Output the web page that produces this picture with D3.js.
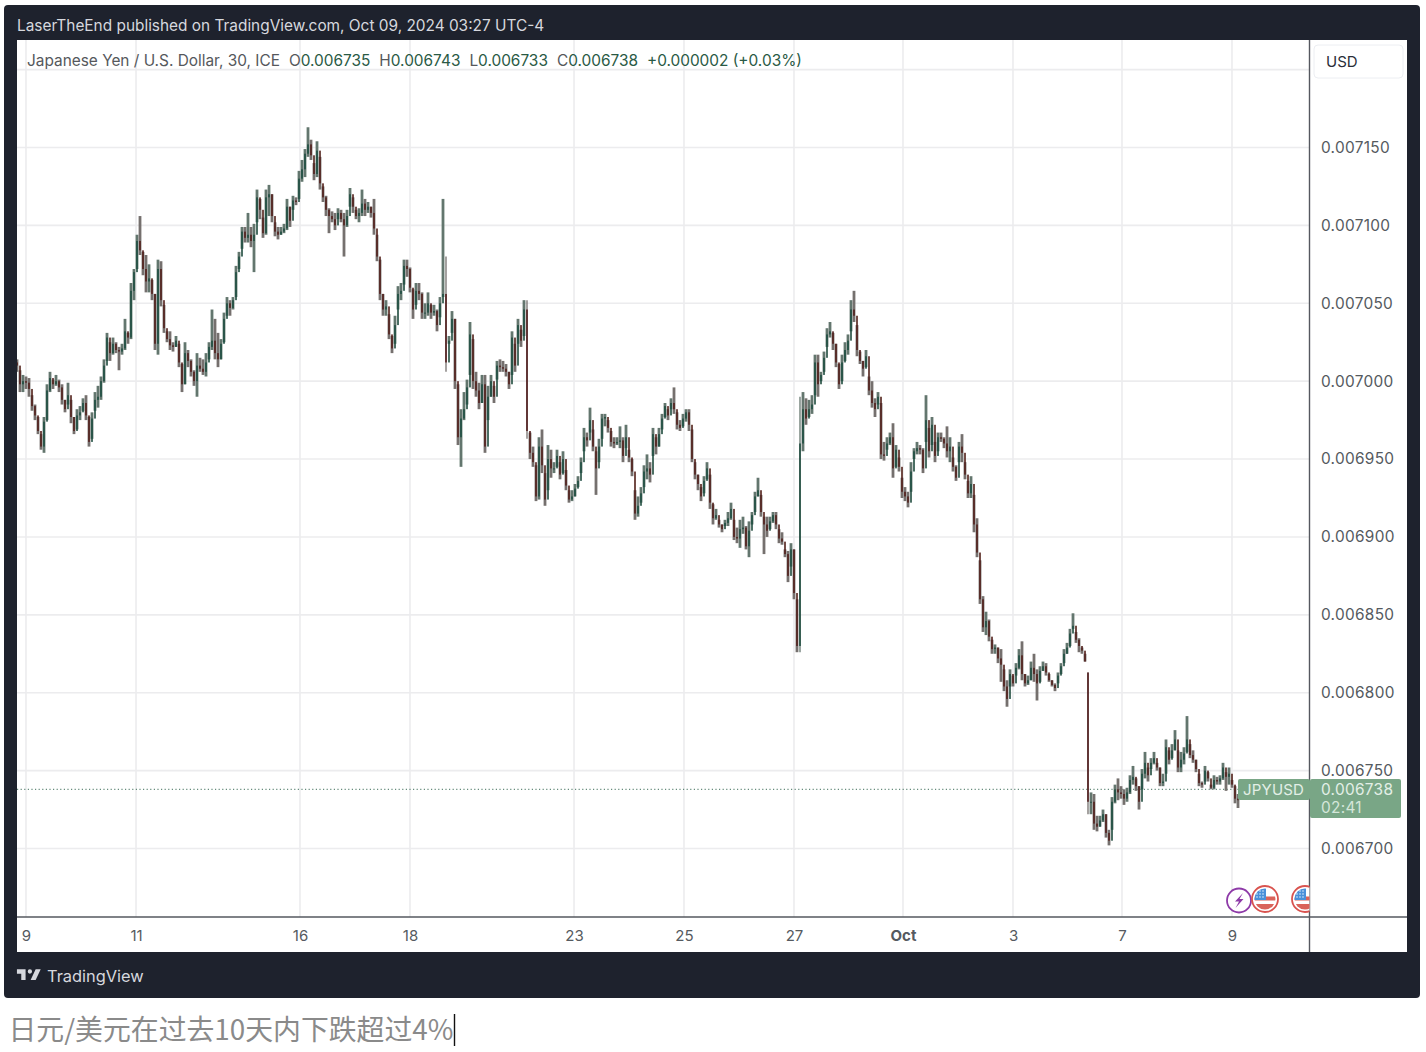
<!DOCTYPE html>
<html><head><meta charset="utf-8">
<script src="https://cdn.jsdelivr.net/npm/d3@7/dist/d3.min.js"></script>
<style>
html,body{margin:0;padding:0;background:#fff;}
svg{display:block;}
text{font-family:Inter,"Noto Sans CJK SC",sans-serif;}
</style></head><body>
<svg id="c" width="1426" height="1052"></svg>
<script>
// prices are in millionths of a USD per JPY
const highs = [7014,7007,7004,7003,7002,6991,6985,6977,6966,6977,6998,7006,7001,7004,7001,6998,6988,6999,6988,6977,6982,6984,6989,6991,6977,6980,6993,6997,7003,7014,7031,7025,7028,7025,7022,7024,7040,7031,7063,7072,7094,7106,7083,7081,7075,7065,7056,7078,7077,7049,7032,7032,7025,7029,7024,7011,7025,7020,7014,7007,7018,7015,7014,7018,7025,7046,7040,7031,7027,7044,7054,7052,7054,7074,7083,7099,7099,7108,7099,7101,7123,7117,7105,7123,7126,7120,7102,7099,7099,7101,7117,7112,7119,7118,7135,7142,7149,7163,7155,7140,7154,7144,7125,7119,7111,7109,7108,7111,7110,7108,7110,7124,7118,7110,7111,7123,7117,7115,7112,7117,7094,7078,7056,7052,7043,7029,7042,7061,7063,7078,7078,7073,7059,7063,7063,7057,7050,7057,7049,7049,7046,7054,7117,7080,7029,7045,7040,6998,6982,6993,7001,7038,7027,7006,6999,7004,7004,6997,7004,6997,7013,7014,7013,7011,7006,7032,7024,7040,7033,7052,7052,6967,6958,6946,6964,6969,6941,6959,6956,6948,6956,6948,6955,6943,6930,6930,6934,6939,6951,6970,6967,6983,6969,6955,6963,6979,6979,6975,6968,6964,6964,6971,6964,6972,6956,6950,6930,6926,6932,6946,6953,6948,6970,6964,6970,6979,6986,6982,6989,6996,6980,6975,6979,6982,6982,6969,6948,6940,6932,6939,6948,6940,6921,6918,6911,6908,6911,6916,6922,6911,6906,6911,6913,6907,6910,6916,6929,6938,6927,6913,6913,6913,6916,6916,6905,6903,6892,6891,6896,6892,6860,6990,6993,6989,6988,6991,7017,7017,7006,7019,7034,7038,7031,7024,7011,7017,7025,7030,7052,7058,7036,7019,7013,7020,7003,7000,6989,6993,6986,6961,6964,6967,6973,6959,6951,6938,6932,6929,6948,6957,6961,6959,6957,6991,6970,6977,6961,6967,6967,6964,6971,6964,6951,6946,6961,6966,6948,6936,6939,6927,6912,6885,6862,6852,6847,6834,6831,6829,6828,6815,6808,6815,6811,6819,6828,6833,6812,6811,6820,6825,6815,6817,6820,6819,6812,6808,6806,6813,6819,6828,6832,6841,6851,6839,6835,6829,6825,6813,6736,6735,6721,6721,6725,6722,6712,6733,6741,6745,6740,6738,6739,6747,6753,6745,6740,6751,6762,6752,6758,6762,6755,6752,6748,6770,6763,6767,6776,6763,6762,6765,6785,6767,6763,6757,6748,6743,6753,6749,6741,6747,6746,6747,6755,6749,6752,6744,6740,6735];
const lows = [7006,6993,6993,6995,6990,6981,6975,6966,6956,6954,6975,6993,6995,6997,6993,6985,6980,6985,6973,6966,6969,6975,6981,6975,6958,6963,6981,6983,6988,6999,7013,7013,7017,7018,7007,7017,7020,7024,7027,7052,7072,7081,7068,7057,7057,7052,7020,7017,7048,7031,7025,7020,7019,7022,7009,6993,6998,7009,7003,6997,6990,7006,7004,7003,7014,7020,7014,7009,7014,7025,7042,7042,7046,7054,7072,7085,7089,7089,7086,7070,7102,7104,7092,7094,7106,7102,7093,7091,7094,7095,7097,7099,7110,7113,7117,7128,7131,7144,7142,7129,7131,7123,7115,7106,7095,7102,7097,7104,7102,7080,7099,7112,7108,7104,7102,7106,7106,7108,7105,7094,7077,7052,7042,7042,7027,7018,7024,7046,7052,7062,7067,7057,7040,7049,7052,7040,7040,7042,7040,7042,7032,7041,7054,7006,7024,7031,6995,6959,6945,6975,6985,7004,6995,6990,6982,6986,6954,6975,6990,6986,7001,7006,7006,7003,6995,7004,7006,7024,7022,7029,6963,6950,6945,6923,6924,6941,6920,6930,6938,6941,6945,6937,6941,6930,6922,6923,6926,6932,6941,6955,6958,6967,6955,6927,6948,6963,6971,6967,6958,6957,6959,6957,6948,6957,6948,6939,6911,6913,6922,6932,6937,6935,6952,6953,6958,6969,6977,6975,6982,6979,6969,6968,6971,6974,6968,6948,6937,6930,6923,6928,6937,6918,6908,6911,6906,6903,6907,6907,6911,6898,6896,6893,6902,6892,6887,6908,6916,6926,6913,6889,6900,6905,6909,6905,6896,6895,6887,6871,6881,6860,6826,6826,6955,6972,6977,6979,6991,6990,7000,7006,7022,7028,7020,7009,6995,7000,7013,7017,7032,7038,7016,7011,7003,7009,6991,6983,6977,6985,6950,6949,6956,6959,6938,6945,6942,6925,6923,6919,6929,6950,6953,6953,6941,6961,6951,6959,6948,6955,6961,6957,6951,6948,6942,6936,6948,6948,6937,6925,6925,6903,6887,6857,6839,6837,6833,6825,6825,6819,6807,6801,6791,6804,6804,6811,6815,6808,6804,6805,6808,6807,6795,6807,6814,6811,6807,6804,6801,6806,6812,6819,6825,6830,6841,6832,6826,6825,6820,6722,6722,6712,6711,6714,6717,6707,6702,6712,6729,6731,6732,6728,6730,6735,6741,6737,6725,6738,6745,6743,6751,6754,6750,6740,6740,6748,6754,6758,6763,6749,6749,6754,6762,6758,6755,6749,6740,6739,6743,6743,6738,6738,6741,6741,6744,6737,6741,6739,6729,6726];
const closes = [7010,6998,7000,6999,6995,6984,6978,6968,6958,6974,6994,7002,6998,7000,6996,6988,6982,6991,6977,6968,6978,6980,6986,6978,6961,6976,6988,6990,7000,7010,7028,7018,7024,7020,7019,7021,7032,7028,7058,7070,7090,7084,7072,7064,7066,7056,7024,7072,7052,7034,7027,7023,7022,7026,7012,6998,7018,7013,7006,7000,7010,7008,7006,7012,7022,7026,7018,7014,7024,7040,7050,7047,7052,7070,7080,7096,7092,7094,7090,7094,7118,7110,7095,7118,7120,7106,7096,7094,7096,7098,7112,7103,7116,7115,7130,7136,7146,7152,7145,7133,7148,7127,7118,7110,7106,7104,7100,7108,7104,7100,7106,7120,7112,7106,7108,7114,7110,7112,7108,7098,7080,7056,7046,7048,7030,7021,7036,7056,7058,7074,7072,7060,7046,7058,7056,7044,7044,7050,7044,7045,7036,7050,7056,7012,7026,7040,7000,6964,6976,6982,6996,7030,7000,6994,6986,6998,6958,6990,7000,6990,7010,7009,7008,7006,6998,7028,7010,7036,7026,7046,6968,6954,6948,6926,6958,6946,6924,6950,6944,6944,6952,6940,6950,6933,6924,6926,6931,6936,6948,6964,6962,6975,6958,6944,6958,6976,6977,6970,6961,6960,6961,6962,6952,6964,6951,6942,6915,6920,6928,6942,6944,6940,6966,6958,6966,6976,6984,6978,6986,6982,6972,6970,6976,6980,6972,6950,6940,6934,6926,6936,6944,6922,6912,6914,6908,6905,6909,6912,6918,6900,6899,6905,6906,6894,6904,6914,6926,6930,6916,6908,6904,6910,6914,6908,6899,6897,6889,6875,6892,6864,6830,6960,6982,6976,6982,6985,7012,6998,7004,7015,7030,7032,7024,7012,6998,7012,7020,7026,7046,7042,7020,7013,7008,7016,6994,6986,6982,6990,6953,6952,6960,6964,6944,6956,6945,6929,6926,6922,6942,6955,6957,6956,6944,6975,6955,6972,6952,6964,6963,6960,6955,6958,6945,6938,6958,6954,6940,6928,6934,6908,6890,6860,6842,6846,6836,6828,6829,6822,6818,6804,6796,6812,6806,6816,6824,6812,6806,6808,6816,6812,6806,6814,6817,6813,6808,6805,6803,6811,6817,6825,6829,6838,6843,6834,6830,6827,6820,6730,6730,6716,6714,6718,6722,6710,6705,6730,6738,6736,6735,6732,6736,6744,6746,6740,6730,6748,6755,6747,6755,6758,6752,6742,6743,6765,6757,6763,6770,6752,6757,6761,6770,6760,6757,6751,6742,6741,6750,6745,6739,6744,6743,6745,6752,6746,6748,6741,6732,6731];
const firstOpen = 7012;
const gapBar = 357;      // the bar that gaps down on Oct 4
const gapOpen = 6813;
const priceUnit = 1e-6;
const lastPrice = 0.006738;
const priceTicks = [0.0067,0.00675,0.0068,0.00685,0.0069,0.00695,0.007,0.00705,0.0071,0.00715];
const gridPrices = [0.0067,0.00675,0.0068,0.00685,0.0069,0.00695,0.007,0.00705,0.0071,0.00715,0.0072];
const timeLabels = ["9","11","16","18","23","25","27","Oct","3","7","9"];
const timeBars = [3,39.67,94.33,131,185.67,222.33,259,295.33,332,368.33,405];
const legendName = "Japanese Yen / U.S. Dollar, 30, ICE";
const legendOHLC = [["O","0.006735"],["H","0.006743"],["L","0.006733"],["C","0.006738"]];
const legendChange = "+0.000002 (+0.03%)";

const svg = d3.select("#c");
const defs = svg.append("defs");
const soft = defs.append("filter").attr("id","soft").attr("filterUnits","userSpaceOnUse")
  .attr("x",0).attr("y",0).attr("width",1426).attr("height",1052);
soft.append("feGaussianBlur").attr("stdDeviation",0.55);
defs.append("clipPath").attr("id","pane").append("rect").attr("x",17).attr("y",40).attr("width",1292).attr("height",877);
const flagClip = defs.append("clipPath").attr("id","paneIcons");
flagClip.append("rect").attr("x",1200).attr("y",870).attr("width",109.5).attr("height",47);

// frame
svg.append("rect").attr("x",4).attr("y",5).attr("width",1416).attr("height",993).attr("rx",4).attr("fill","#1e222d");
svg.append("rect").attr("x",17).attr("y",40).attr("width",1390).attr("height",912).attr("fill","#fff");
svg.append("text").attr("x",17).attr("y",31).attr("font-size",15.4).attr("fill","#d6d8de")
  .text("LaserTheEnd published on TradingView.com, Oct 09, 2024 03:27 UTC-4");

const x = d3.scaleLinear().domain([0,highs.length-1]).range([17,1238]);
const y = d3.scaleLinear().domain([0.0067,0.00715]).range([848.5,147.5]);

// grid
const grid = svg.append("g").attr("clip-path","url(#pane)");
grid.selectAll("line.h").data(gridPrices).join("line").attr("class","h")
  .attr("x1",17).attr("x2",1309).attr("y1",d=>y(d)).attr("y2",d=>y(d))
  .attr("stroke","#ececee").attr("stroke-width",1.6);
grid.selectAll("line.v").data(timeBars).join("line").attr("class","v")
  .attr("x1",d=>x(d)).attr("x2",d=>x(d)).attr("y1",40).attr("y2",917)
  .attr("stroke","#ececee").attr("stroke-width",1.6);

// last-price dotted line
svg.append("line").attr("x1",17).attr("x2",1238).attr("y1",y(lastPrice)).attr("y2",y(lastPrice))
  .attr("stroke","#3f6f5a").attr("stroke-width",1).attr("stroke-dasharray","1.2 2.4");

// candles
const idx = d3.range(highs.length);
const opens = idx.map(i=> i===0 ? firstOpen : i===gapBar ? gapOpen : closes[i-1]);
const bars = svg.append("g").attr("clip-path","url(#pane)").append("g").attr("filter","url(#soft)");
bars.selectAll("line.w").data(idx).join("line").attr("class","w")
  .attr("x1",i=>x(i)).attr("x2",i=>x(i))
  .attr("y1",i=>y(highs[i]*priceUnit)).attr("y2",i=>y(lows[i]*priceUnit))
  .attr("stroke",i=>closes[i]>=opens[i]?"#64766e":"#75706e")
  .attr("stroke-width",i=>highs[i]-lows[i]>70?1.3:2.8);
bars.selectAll("rect.b").data(idx).join("rect").attr("class","b")
  .attr("x",i=>x(i)-0.8).attr("width",1.6)
  .attr("y",i=>y(Math.max(opens[i],closes[i])*priceUnit))
  .attr("height",i=>Math.max(1,Math.abs(y(opens[i]*priceUnit)-y(closes[i]*priceUnit))))
  .attr("fill",i=>closes[i]>=opens[i]?"#1e4c40":"#521e1c");

// axis lines
svg.append("line").attr("x1",1309.5).attr("x2",1309.5).attr("y1",40).attr("y2",952).attr("stroke","#55585f").attr("stroke-width",1.4);
svg.append("line").attr("x1",17).attr("x2",1407).attr("y1",917).attr("y2",917).attr("stroke","#55585f").attr("stroke-width",1.4);

// price axis
const yAxis = svg.append("g").attr("transform","translate(1309,0)")
  .call(d3.axisRight(y).tickValues(priceTicks).tickFormat(d3.format(".6f")).tickSize(0).tickPadding(12));
yAxis.select(".domain").remove();
yAxis.selectAll("text").attr("font-size",15.4).attr("letter-spacing",0.3).attr("fill","#555a60").attr("font-family","Inter,sans-serif");

// time axis
const xAxis = svg.append("g").attr("transform","translate(0,917)")
  .call(d3.axisBottom(x).tickValues(timeBars).tickFormat((d,i)=>timeLabels[i]).tickSize(0).tickPadding(13));
xAxis.select(".domain").remove();
xAxis.selectAll("text").attr("font-size",15).attr("fill","#555a60").attr("font-family","Inter,sans-serif")
  .attr("font-weight",(d,i)=>timeLabels[i]==="Oct"?700:400);

// legend
const leg = svg.append("text").attr("x",27).attr("y",65.5).attr("font-size",15.4).attr("fill","#55585c");
leg.append("tspan").text(legendName);
legendOHLC.forEach((p,i)=>{
  leg.append("tspan").attr("dx",9).attr("fill","#55585c").text(p[0]);
  leg.append("tspan").attr("fill","#2a5a45").text(p[1]);
});
leg.append("tspan").attr("dx",9).attr("fill","#2a5a45").text(legendChange);

// currency button
svg.append("rect").attr("x",1314).attr("y",45).attr("width",89).attr("height",33).attr("rx",4).attr("fill","#fff").attr("stroke","#eceef2");
svg.append("text").attr("x",1326).attr("y",67).attr("font-size",15).attr("fill","#2a2e39").text("USD");

// last-price tag
const tagY = y(lastPrice);
svg.append("rect").attr("x",1238).attr("y",779).attr("width",72).attr("height",21).attr("rx",2).attr("fill","#79a686");
svg.append("rect").attr("x",1310).attr("y",779).attr("width",91).attr("height",39).attr("rx",2).attr("fill","#79a686");
svg.append("text").attr("x",1243).attr("y",tagY+5.5).attr("font-size",15).attr("letter-spacing",0.2).attr("fill","#e3efe6").text("JPYUSD");
svg.append("text").attr("x",1321).attr("y",tagY+5.5).attr("font-size",15.4).attr("letter-spacing",0.3).attr("fill","#e3efe6").text(d3.format(".6f")(lastPrice));
svg.append("text").attr("x",1321).attr("y",813).attr("font-size",15.4).attr("letter-spacing",0.3).attr("fill","#d5e6da").text("02:41");

// event icons
const icons = svg.append("g").attr("clip-path","url(#paneIcons)");
icons.append("circle").attr("cx",1239).attr("cy",900.5).attr("r",12).attr("fill","#fff").attr("stroke","#8e3aa8").attr("stroke-width",1.8);
icons.append("path").attr("d","M1243 893 L1235 901.5 L1239 901.5 L1235.5 908 L1243.5 899 L1239.5 899 Z").attr("fill","#8e3aa8");
function flag(cx,id){
  const cp = defs.append("clipPath").attr("id",id);
  cp.append("circle").attr("cx",cx).attr("cy",899).attr("r",10.5);
  icons.append("circle").attr("cx",cx).attr("cy",899).attr("r",13).attr("fill","#fff").attr("stroke","#d9534f").attr("stroke-width",1.8);
  const g = icons.append("g").attr("clip-path",`url(#${id})`);
  g.append("rect").attr("x",cx-11).attr("y",896.5).attr("width",22).attr("height",4).attr("fill","#d9635a");
  g.append("rect").attr("x",cx-11).attr("y",904).attr("width",22).attr("height",6).attr("fill","#d9635a");
  g.append("rect").attr("x",cx-11).attr("y",888).attr("width",12).attr("height",12).attr("fill","#4a90d9");
  const dots = [0,1,2];
  dots.forEach(r=>[0,1,2].forEach(c=>{
    g.append("circle").attr("cx",cx-8+c*3).attr("cy",891+r*3).attr("r",0.7).attr("fill","#fff");
  }));
}
flag(1265,"f1"); flag(1305,"f2");

// footer logo and brand
svg.append("path").attr("transform","translate(15.5,965) scale(0.72)")
  .attr("d","M14 6H2v6h6v9h6V6zm14 15h-7l7-15h7l-7 15zm-8-9a3 3 0 1 0 0-6 3 3 0 0 0 0 6z").attr("fill","#d6d8de");
svg.append("text").attr("x",47).attr("y",981.5).attr("font-size",16.4).attr("fill","#d6d8de").text("TradingView");

// caption
svg.append("text").attr("x",8.5).attr("y",1040).attr("font-size",27.85).attr("fill","#8a8a8a")
  .attr("style","font-family:'Noto Sans CJK SC',sans-serif").text("日元/美元在过去10天内下跌超过4%");
svg.append("line").attr("x1",454.5).attr("x2",454.5).attr("y1",1014).attr("y2",1046).attr("stroke","#111").attr("stroke-width",1.4);
</script>
</body></html>
